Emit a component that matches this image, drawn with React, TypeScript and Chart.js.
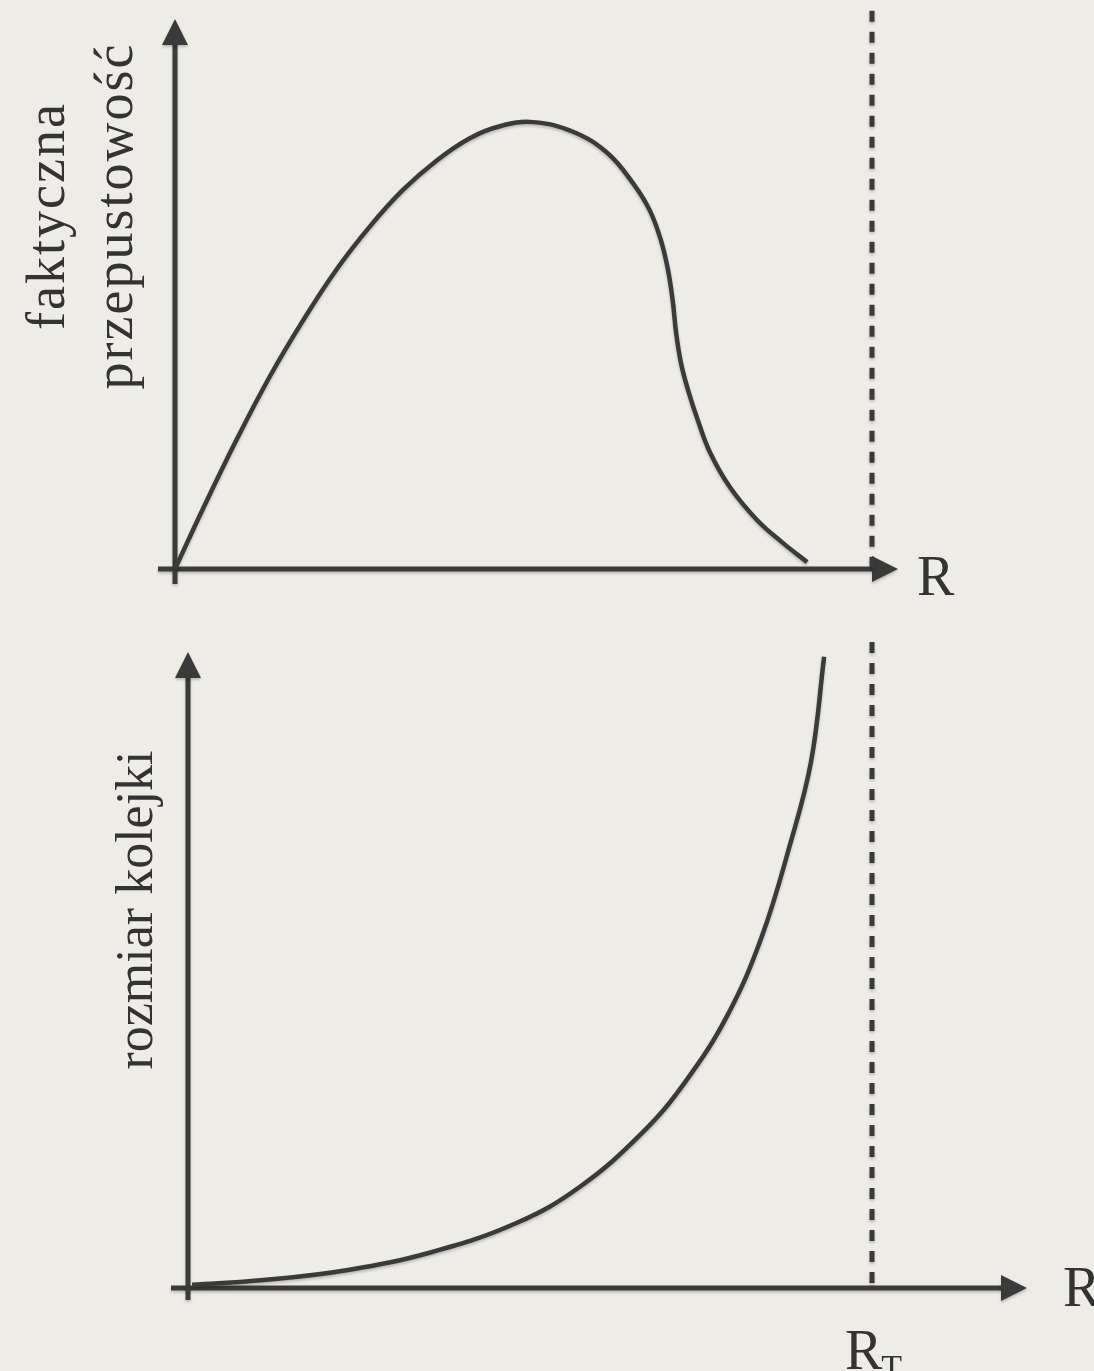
import React, { useEffect, useRef } from "react";
import { Chart, registerables } from "chart.js";

Chart.register(...registerables);

// ---- data (x in units of R_T, y normalised) ----
const topCurveX = [0, 0.040, 0.089, 0.136, 0.184, 0.232, 0.280, 0.327, 0.376, 0.423, 0.466, 0.514, 0.571, 0.620, 0.657, 0.681, 0.697, 0.707, 0.714, 0.719, 0.726, 0.736, 0.750, 0.768, 0.796, 0.835, 0.872, 0.907];
const topCurveY = [0, 0.131, 0.284, 0.420, 0.543, 0.654, 0.748, 0.827, 0.892, 0.940, 0.966, 0.975, 0.954, 0.908, 0.842, 0.783, 0.718, 0.655, 0.587, 0.515, 0.449, 0.391, 0.325, 0.253, 0.179, 0.107, 0.057, 0.015];

const bottomCurveX = [0.006, 0.111, 0.234, 0.357, 0.481, 0.573, 0.665, 0.727, 0.788, 0.838, 0.880, 0.911, 0.930];
const bottomCurveY = [0.006, 0.015, 0.034, 0.068, 0.123, 0.191, 0.294, 0.389, 0.513, 0.660, 0.836, 0.994, 1.191];

const thresholdX = [1, 1];
const topThresholdY = [1.218, 0];
const bottomThresholdY = [1.219, 0];

const topAxisMax = { x: 1.0373, y: 1.2 };
const bottomAxisMax = { x: 1.2266, y: 1.2 };

const topYLabelLines = ["faktyczna", "przepustowość"];
const bottomYLabel = "rozmiar kolejki";
const xAxisLabel = "R";
const thresholdLabel = "R";
const thresholdSubscript = "T";

const INK = "#3a3a3a";
const TEXT = "#333333";
const BG = "#eeece7";
const FONT = '"Liberation Serif", "Times New Roman", serif';

const toPoints = (xs: number[], ys: number[]) => xs.map((x, i) => ({ x, y: ys[i] }));

function arrowAxesPlugin(kind: "top" | "bottom") {
  return {
    id: "arrowAxes_" + kind,
    beforeDatasetsDraw(chart: any) {
      const { ctx } = chart;
      const xs = chart.scales.x;
      const ys = chart.scales.y;
      const ox = xs.getPixelForValue(0);
      const oy = ys.getPixelForValue(0);
      const tipX = xs.getPixelForValue(xs.max);
      const tipY = ys.getPixelForValue(ys.max);
      const head = 26;
      const half = 13;
      ctx.save();
      ctx.shadowColor = "rgba(0,0,0,0.22)";
      ctx.shadowBlur = 3;
      ctx.shadowOffsetY = 2;
      ctx.strokeStyle = INK;
      ctx.fillStyle = INK;
      ctx.lineWidth = 5;
      ctx.lineCap = "butt";
      // x axis
      ctx.beginPath();
      ctx.moveTo(ox - 17, oy);
      ctx.lineTo(tipX - head + 2, oy);
      ctx.stroke();
      ctx.beginPath();
      ctx.moveTo(tipX, oy);
      ctx.lineTo(tipX - head, oy - half);
      ctx.lineTo(tipX - head, oy + half);
      ctx.closePath();
      ctx.fill();
      // y axis
      ctx.beginPath();
      ctx.moveTo(ox, oy + (kind === "top" ? 15 : 12));
      ctx.lineTo(ox, tipY + head - 2);
      ctx.stroke();
      ctx.beginPath();
      ctx.moveTo(ox, tipY);
      ctx.lineTo(ox - half, tipY + head);
      ctx.lineTo(ox + half, tipY + head);
      ctx.closePath();
      ctx.fill();
      ctx.restore();
    },
    beforeDatasetDraw(chart: any) {
      const { ctx } = chart;
      ctx.save();
      ctx.shadowColor = "rgba(0,0,0,0.22)";
      ctx.shadowBlur = 3;
      ctx.shadowOffsetY = 2;
    },
    afterDatasetDraw(chart: any) {
      chart.ctx.restore();
    },
    afterDraw(chart: any) {
      const { ctx } = chart;
      const xs = chart.scales.x;
      const ys = chart.scales.y;
      const oy = ys.getPixelForValue(0);
      const tipX = xs.getPixelForValue(xs.max);
      ctx.save();
      ctx.fillStyle = TEXT;
      ctx.textBaseline = "alphabetic";
      if (kind === "top") {
        ctx.font = `54px ${FONT}`;
        (ctx as any).letterSpacing = "2px";
        const cy = 216;
        const baselines = [64, 132];
        topYLabelLines.forEach((line, i) => {
          ctx.save();
          ctx.translate(baselines[i], cy);
          ctx.rotate(-Math.PI / 2);
          ctx.textAlign = "center";
          ctx.fillText(line, 0, 0);
          ctx.restore();
        });
        (ctx as any).letterSpacing = "0px";
        ctx.font = `56px ${FONT}`;
        ctx.textAlign = "left";
        ctx.fillText(xAxisLabel, tipX + 19, oy + 26);
      } else {
        ctx.font = `52px ${FONT}`;
        ctx.save();
        ctx.translate(152, 290);
        ctx.rotate(-Math.PI / 2);
        ctx.textAlign = "center";
        ctx.fillText(bottomYLabel, 0, 0);
        ctx.restore();
        ctx.font = `56px ${FONT}`;
        ctx.textAlign = "left";
        ctx.fillText(xAxisLabel, tipX + 36, oy + 18);
        const rx = xs.getPixelForValue(thresholdX[0]);
        ctx.fillText(thresholdLabel, rx - 27, oy + 81);
        const w = ctx.measureText(thresholdLabel).width;
        ctx.font = `34px ${FONT}`;
        ctx.fillText(thresholdSubscript, rx - 27 + w - 1, oy + 90);
      }
      ctx.restore();
    },
  };
}

function makeConfig(kind: "top" | "bottom") {
  const isTop = kind === "top";
  const curve = isTop ? toPoints(topCurveX, topCurveY) : toPoints(bottomCurveX, bottomCurveY);
  const dash = toPoints(thresholdX, isTop ? topThresholdY : bottomThresholdY);
  const max = isTop ? topAxisMax : bottomAxisMax;
  return {
    type: "scatter" as const,
    data: {
      datasets: [
        {
          data: dash,
          showLine: true,
          borderColor: INK,
          borderWidth: 5,
          borderDash: [11, 10],
          pointRadius: 0,
          clip: false,
        },
        {
          data: curve,
          showLine: true,
          borderColor: INK,
          borderWidth: 4.5,
          tension: 0.4,
          pointRadius: 0,
          clip: false,
        },
      ],
    },
    options: {
      animation: false as const,
      responsive: false,
      devicePixelRatio: 1,
      layout: isTop
        ? { padding: { left: 175, right: 1094 - 898, top: 19, bottom: 620 - 569 } }
        : { padding: { left: 188, right: 1094 - 1027, top: 32, bottom: 751 - 668 } },
      scales: {
        x: { type: "linear" as const, min: 0, max: max.x, display: false },
        y: { type: "linear" as const, min: 0, max: max.y, display: false },
      },
      plugins: {
        legend: { display: false },
        tooltip: { enabled: false },
      },
      events: [],
    },
    plugins: [arrowAxesPlugin(kind)],
  };
}

function Panel({ kind, top, height }: { kind: "top" | "bottom"; top: number; height: number }) {
  const ref = useRef<HTMLCanvasElement | null>(null);
  useEffect(() => {
    if (!ref.current) return;
    const chart = new Chart(ref.current, makeConfig(kind) as any);
    return () => chart.destroy();
  }, [kind]);
  return (
    <canvas
      ref={ref}
      width={1094}
      height={height}
      style={{ position: "absolute", left: 0, top, width: 1094, height }}
    />
  );
}

export default function App() {
  useEffect(() => {
    document.body.style.margin = "0";
    document.body.style.background = BG;
    document.documentElement.style.background = BG;
  }, []);
  return (
    <div style={{ position: "relative", width: 1094, height: 1371, background: BG, overflow: "hidden" }}>
      <Panel kind="top" top={0} height={620} />
      <Panel kind="bottom" top={620} height={751} />
    </div>
  );
}
